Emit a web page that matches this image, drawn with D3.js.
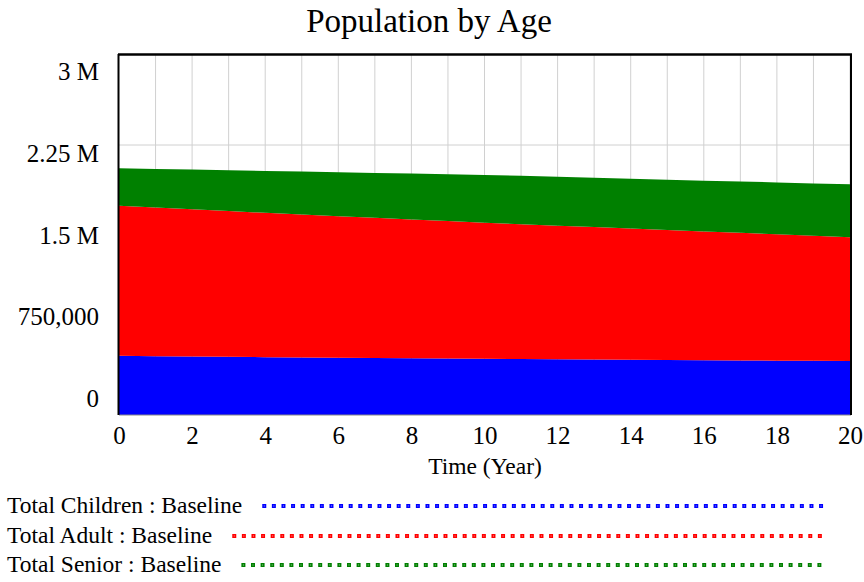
<!DOCTYPE html>
<html><head><meta charset="utf-8">
<script src="https://cdn.jsdelivr.net/npm/d3@7"></script>
<style>body{margin:0;background:#fff}svg{display:block}text{font-family:"Liberation Serif","Times New Roman",serif;fill:#000}</style>
</head><body>
<svg id="c" width="864" height="582"></svg>
<script>
const years = d3.range(0, 21);
const children = [493000,490000,487000,485000,482000,480000,477000,475000,472000,470000,468000,466000,464000,462000,460000,459000,457000,455000,453000,452000,450000];
const adults = [1251000,1239000,1227000,1214000,1203000,1191000,1180000,1168000,1157000,1146000,1134000,1124000,1114000,1104000,1094000,1083000,1073000,1063000,1053000,1041000,1031000];
const seniors = [312000,322000,331000,341000,349000,358000,366000,374000,383000,390000,398000,403000,407000,411000,415000,419000,423000,428000,432000,437000,441000];
const seriesNames = ["Total Children : Baseline","Total Adult : Baseline","Total Senior : Baseline"];
const seriesColors = ["#0000ff","#ff0000","#008000"];
const yTickValues = [0, 750000, 1500000, 2250000, 3000000];
const yTickLabels = ["0","750,000","1.5 M","2.25 M","3 M"];
const xTickValues = [0,2,4,6,8,10,12,14,16,18,20];

const rows = years.map((t,i)=>({t, c:children[i], a:adults[i], s:seniors[i]}));
const svg = d3.select("#c");
const L=119, R=850, T=55, B=415;
const x = d3.scaleLinear().domain([0,20]).range([L,R]);
const y = d3.scaleLinear().domain([0,3000000]).range([B,T]);

svg.append("text").attr("x",429).attr("y",32).attr("text-anchor","middle").style("font-size","33px").text("Population by Age");

// grid
const g = svg.append("g");
g.selectAll(".vg").data(years.slice(1)).join("line")
  .attr("x1",d=>x(d)).attr("x2",d=>x(d)).attr("y1",T).attr("y2",B)
  .attr("stroke","#d0d0d0").attr("stroke-width",1);
g.selectAll(".hg").data(yTickValues.slice(1,4)).join("line")
  .attr("x1",L).attr("x2",R).attr("y1",d=>y(d)).attr("y2",d=>y(d))
  .attr("stroke","#d0d0d0").attr("stroke-width",1);

// stacked areas
const stack = d3.stack().keys(["c","a","s"]);
const layers = stack(rows);
const area = d3.area().x(d=>x(d.data.t)).y0(d=>y(d[0])).y1(d=>y(d[1]));
svg.selectAll(".layer").data(layers).join("path")
  .attr("d",area).attr("fill",(d,i)=>seriesColors[i]);

// frame
svg.append("line").attr("x1",L).attr("x2",R+1).attr("y1",B).attr("y2",B).attr("stroke","#888").attr("stroke-width",1);
svg.append("line").attr("x1",L-1).attr("x2",R+2).attr("y1",T-0.5).attr("y2",T-0.5).attr("stroke","#000").attr("stroke-width",2.5);
svg.append("line").attr("x1",L-0.5).attr("x2",L-0.5).attr("y1",T-1).attr("y2",B).attr("stroke","#000").attr("stroke-width",2);
svg.append("line").attr("x1",R+1).attr("x2",R+1).attr("y1",T-1).attr("y2",B).attr("stroke","#000").attr("stroke-width",2);

// y axis labels (shifted inward like the original)
const yAxis = d3.axisLeft(y).tickValues(yTickValues).tickFormat((d,i)=>yTickLabels[i]).tickSize(0).tickPadding(20);
const ya = svg.append("g").attr("transform",`translate(${L},0)`).call(yAxis);
ya.select(".domain").remove();
ya.selectAll("text").style("font-size","25px").style("font-family","Liberation Serif, serif").attr("fill","#000")
  .attr("dy",d=>(0.32 + (d/3000000 - 0.5)*33/25) + "em");

// x axis
const xAxis = d3.axisBottom(x).tickValues(xTickValues).tickFormat(d3.format("d")).tickSize(0).tickPadding(11);
const xa = svg.append("g").attr("transform",`translate(0,${B})`).call(xAxis);
xa.select(".domain").remove();
xa.selectAll("text").style("font-size","25px").style("font-family","Liberation Serif, serif").attr("fill","#000");

svg.append("text").attr("x",485).attr("y",474).attr("text-anchor","middle").style("font-size","23.5px").text("Time (Year)");

// legend
const legY = [513, 543, 572];
const lg = svg.selectAll(".leg").data(seriesNames).join("g");
lg.each(function(name,i){
  const gg = d3.select(this);
  const t = gg.append("text").attr("x",7).attr("y",legY[i]).style("font-size","23.5px").text(name);
  const w = t.node().getComputedTextLength();
  const x0 = 7 + w + 20, x1 = 825;
  const yy = legY[i]-7;
  gg.append("line").attr("x1",x0).attr("x2",x1).attr("y1",yy).attr("y2",yy)
    .attr("stroke",seriesColors[i]).attr("stroke-width",4).attr("stroke-dasharray","4,5.6");
  gg.append("line").attr("x1",x0+1.5).attr("x2",x1).attr("y1",yy).attr("y2",yy)
    .attr("stroke","#fff").attr("stroke-opacity",0.6).attr("stroke-width",1.2).attr("stroke-dasharray","1,8.6");
});
</script>
</body></html>
